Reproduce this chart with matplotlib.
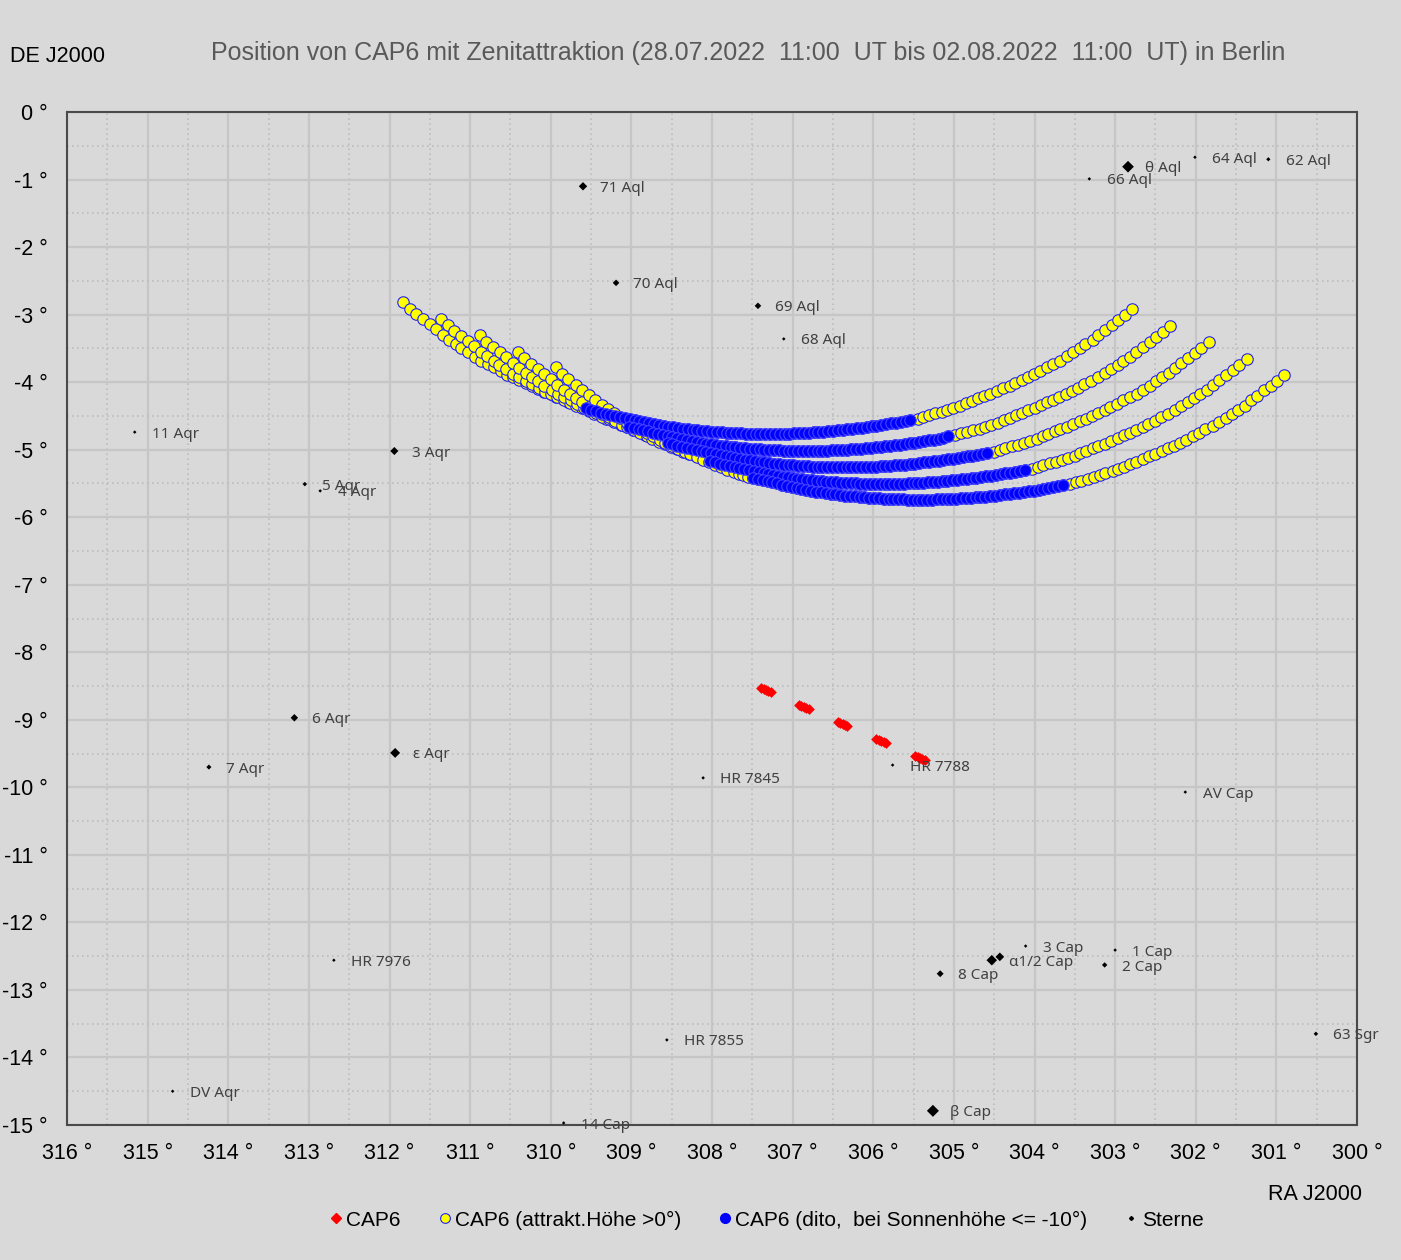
import matplotlib
matplotlib.use("Agg")
import matplotlib.pyplot as plt
from matplotlib.lines import Line2D

plt.rcParams['font.family'] = ['Liberation Sans', 'DejaVu Sans']

BG = '#d9d9d9'

# apparent radiant (zenith attraction), one track per night, ordered by falling RA
# indices DARK_START..DARK_END-1 are the points with sun altitude <= -10 deg
RA_0108 = [311.83, 311.75, 311.67, 311.58, 311.50, 311.42, 311.34, 311.26, 311.18, 311.11,
           311.03, 310.94, 310.86, 310.78, 310.70, 310.62, 310.54, 310.47, 310.39, 310.31,
           310.23, 310.16, 310.08, 310.00, 309.93, 309.85, 309.78, 309.70, 309.62,
           309.56, 309.50, 309.44, 309.38, 309.32, 309.26, 309.20, 309.14, 309.08, 309.02,
           308.96, 308.90, 308.84, 308.78, 308.72, 308.66, 308.60, 308.54, 308.48, 308.42,
           308.36, 308.30, 308.24, 308.18, 308.12, 308.06, 308.00, 307.94, 307.88, 307.82,
           307.76, 307.70, 307.64, 307.58, 307.52, 307.46, 307.40, 307.34, 307.28, 307.22,
           307.16, 307.10, 307.04, 306.98, 306.92, 306.86, 306.80, 306.74, 306.68, 306.62,
           306.56, 306.50, 306.44, 306.38, 306.32, 306.26, 306.20, 306.14, 306.08, 306.02,
           305.96, 305.90, 305.84, 305.78, 305.72, 305.66, 305.60, 305.54,
           305.45, 305.38, 305.31, 305.23, 305.15, 305.08, 305.01, 304.92, 304.85, 304.78,
           304.70, 304.63, 304.55, 304.47, 304.39, 304.31, 304.24, 304.16, 304.08, 304.01,
           303.93, 303.85, 303.77, 303.68, 303.60, 303.52, 303.44, 303.37, 303.28, 303.21,
           303.13, 303.04, 302.96, 302.88, 302.79]
DE_0108 = [-2.81, -2.91, -2.99, -3.07, -3.14, -3.22, -3.30, -3.37, -3.43, -3.49,
           -3.56, -3.63, -3.68, -3.73, -3.78, -3.83, -3.89, -3.93, -3.97, -4.02,
           -4.06, -4.10, -4.14, -4.18, -4.22, -4.25, -4.29, -4.33, -4.36,
           -4.39, -4.41, -4.43, -4.45, -4.465, -4.48, -4.50, -4.515, -4.53, -4.55,
           -4.565, -4.58, -4.595, -4.61, -4.62, -4.635, -4.65, -4.66, -4.67, -4.68,
           -4.69, -4.70, -4.71, -4.715, -4.72, -4.73, -4.735, -4.74, -4.745, -4.75,
           -4.755, -4.76, -4.76, -4.765, -4.765, -4.77, -4.77, -4.77, -4.77, -4.77,
           -4.77, -4.765, -4.765, -4.76, -4.76, -4.755, -4.75, -4.745, -4.74, -4.735,
           -4.73, -4.725, -4.715, -4.71, -4.70, -4.69, -4.685, -4.675, -4.665, -4.655,
           -4.645, -4.635, -4.62, -4.61, -4.60, -4.585, -4.57, -4.555,
           -4.54, -4.51, -4.49, -4.46, -4.44, -4.41, -4.38, -4.35, -4.31, -4.28,
           -4.24, -4.21, -4.17, -4.13, -4.09, -4.05, -4.01, -3.97, -3.93, -3.88,
           -3.83, -3.78, -3.73, -3.68, -3.62, -3.56, -3.50, -3.44, -3.38, -3.30,
           -3.23, -3.15, -3.08, -3.01, -2.92]

RA_3107 = [311.36, 311.28, 311.20, 311.11, 311.03, 310.95, 310.87, 310.79, 310.71, 310.64,
           310.56, 310.47, 310.39, 310.31, 310.23, 310.15, 310.07, 310.00, 309.92, 309.84,
           309.76, 309.69, 309.61, 309.53, 309.46, 309.38, 309.31, 309.23, 309.15,
           309.09, 309.03, 308.97, 308.91, 308.85, 308.79, 308.73, 308.67, 308.61, 308.55,
           308.49, 308.43, 308.37, 308.31, 308.25, 308.19, 308.13, 308.07, 308.01, 307.95,
           307.89, 307.83, 307.77, 307.71, 307.65, 307.59, 307.53, 307.47, 307.41, 307.35,
           307.29, 307.23, 307.17, 307.11, 307.05, 306.99, 306.93, 306.87, 306.81, 306.75,
           306.69, 306.63, 306.57, 306.51, 306.45, 306.39, 306.33, 306.27, 306.21, 306.15,
           306.09, 306.03, 305.97, 305.91, 305.85, 305.79, 305.73, 305.67, 305.61, 305.55,
           305.49, 305.43, 305.37, 305.31, 305.25, 305.19, 305.13, 305.07,
           304.98, 304.91, 304.84, 304.76, 304.68, 304.61, 304.54, 304.45, 304.38, 304.31,
           304.23, 304.16, 304.08, 304.00, 303.92, 303.84, 303.77, 303.69, 303.61, 303.54,
           303.46, 303.38, 303.30, 303.21, 303.13, 303.05, 302.97, 302.90, 302.81, 302.74,
           302.66, 302.57, 302.49, 302.41, 302.32]
DE_3107 = [-3.06, -3.16, -3.24, -3.32, -3.39, -3.47, -3.55, -3.62, -3.68, -3.74,
           -3.81, -3.88, -3.93, -3.98, -4.03, -4.08, -4.14, -4.18, -4.22, -4.27,
           -4.31, -4.35, -4.39, -4.43, -4.47, -4.50, -4.54, -4.58, -4.61,
           -4.64, -4.66, -4.68, -4.70, -4.715, -4.73, -4.75, -4.765, -4.78, -4.80,
           -4.815, -4.83, -4.845, -4.86, -4.87, -4.885, -4.90, -4.91, -4.92, -4.93,
           -4.94, -4.95, -4.96, -4.965, -4.97, -4.98, -4.985, -4.99, -4.995, -5.00,
           -5.005, -5.01, -5.01, -5.015, -5.015, -5.02, -5.02, -5.02, -5.02, -5.02,
           -5.02, -5.015, -5.015, -5.01, -5.01, -5.005, -5.00, -4.995, -4.99, -4.985,
           -4.98, -4.975, -4.965, -4.96, -4.95, -4.94, -4.935, -4.925, -4.915, -4.905,
           -4.895, -4.885, -4.87, -4.86, -4.85, -4.835, -4.82, -4.805,
           -4.79, -4.76, -4.74, -4.71, -4.69, -4.66, -4.63, -4.60, -4.56, -4.53,
           -4.49, -4.46, -4.42, -4.38, -4.34, -4.30, -4.26, -4.22, -4.18, -4.13,
           -4.08, -4.03, -3.98, -3.93, -3.87, -3.81, -3.75, -3.69, -3.63, -3.55,
           -3.48, -3.40, -3.33, -3.26, -3.17]

RA_3007 = [310.88, 310.80, 310.72, 310.63, 310.55, 310.47, 310.39, 310.31, 310.23, 310.16,
           310.08, 309.99, 309.91, 309.83, 309.75, 309.67, 309.59, 309.52, 309.44, 309.36,
           309.28, 309.21, 309.13, 309.05, 308.98, 308.90, 308.83, 308.75, 308.67,
           308.61, 308.55, 308.49, 308.43, 308.37, 308.31, 308.25, 308.19, 308.13, 308.07,
           308.01, 307.95, 307.89, 307.83, 307.77, 307.71, 307.65, 307.59, 307.53, 307.47,
           307.41, 307.35, 307.29, 307.23, 307.17, 307.11, 307.05, 306.99, 306.93, 306.87,
           306.81, 306.75, 306.69, 306.63, 306.57, 306.51, 306.45, 306.39, 306.33, 306.27,
           306.21, 306.15, 306.09, 306.03, 305.97, 305.91, 305.85, 305.79, 305.73, 305.67,
           305.61, 305.55, 305.49, 305.43, 305.37, 305.31, 305.25, 305.19, 305.13, 305.07,
           305.01, 304.95, 304.89, 304.83, 304.77, 304.71, 304.65, 304.59,
           304.50, 304.43, 304.36, 304.28, 304.20, 304.13, 304.06, 303.97, 303.90, 303.83,
           303.75, 303.68, 303.60, 303.52, 303.44, 303.36, 303.29, 303.21, 303.13, 303.06,
           302.98, 302.90, 302.82, 302.73, 302.65, 302.57, 302.49, 302.42, 302.33, 302.26,
           302.18, 302.09, 302.01, 301.93, 301.84]
DE_3007 = [-3.30, -3.40, -3.48, -3.56, -3.63, -3.71, -3.79, -3.86, -3.92, -3.98,
           -4.05, -4.12, -4.17, -4.22, -4.27, -4.32, -4.38, -4.42, -4.46, -4.51,
           -4.55, -4.59, -4.63, -4.67, -4.71, -4.74, -4.78, -4.82, -4.85,
           -4.88, -4.90, -4.92, -4.94, -4.955, -4.97, -4.99, -5.005, -5.02, -5.04,
           -5.055, -5.07, -5.085, -5.10, -5.11, -5.125, -5.14, -5.15, -5.16, -5.17,
           -5.18, -5.19, -5.20, -5.205, -5.21, -5.22, -5.225, -5.23, -5.235, -5.24,
           -5.245, -5.25, -5.25, -5.255, -5.255, -5.26, -5.26, -5.26, -5.26, -5.26,
           -5.26, -5.255, -5.255, -5.25, -5.25, -5.245, -5.24, -5.235, -5.23, -5.225,
           -5.22, -5.215, -5.205, -5.20, -5.19, -5.18, -5.175, -5.165, -5.155, -5.145,
           -5.135, -5.125, -5.11, -5.10, -5.09, -5.075, -5.06, -5.045,
           -5.03, -5.00, -4.98, -4.95, -4.93, -4.90, -4.87, -4.84, -4.80, -4.77,
           -4.73, -4.70, -4.66, -4.62, -4.58, -4.54, -4.50, -4.46, -4.42, -4.37,
           -4.32, -4.27, -4.22, -4.17, -4.11, -4.05, -3.99, -3.93, -3.87, -3.79,
           -3.72, -3.64, -3.57, -3.50, -3.41]

RA_2907 = [310.41, 310.33, 310.25, 310.16, 310.08, 310.00, 309.92, 309.84, 309.76, 309.69,
           309.61, 309.52, 309.44, 309.36, 309.28, 309.20, 309.12, 309.05, 308.97, 308.89,
           308.81, 308.74, 308.66, 308.58, 308.51, 308.43, 308.36, 308.28, 308.20,
           308.14, 308.08, 308.02, 307.96, 307.90, 307.84, 307.78, 307.72, 307.66, 307.60,
           307.54, 307.48, 307.42, 307.36, 307.30, 307.24, 307.18, 307.12, 307.06, 307.00,
           306.94, 306.88, 306.82, 306.76, 306.70, 306.64, 306.58, 306.52, 306.46, 306.40,
           306.34, 306.28, 306.22, 306.16, 306.10, 306.04, 305.98, 305.92, 305.86, 305.80,
           305.74, 305.68, 305.62, 305.56, 305.50, 305.44, 305.38, 305.32, 305.26, 305.20,
           305.14, 305.08, 305.02, 304.96, 304.90, 304.84, 304.78, 304.72, 304.66, 304.60,
           304.54, 304.48, 304.42, 304.36, 304.30, 304.24, 304.18, 304.12,
           304.03, 303.96, 303.89, 303.81, 303.73, 303.66, 303.59, 303.50, 303.43, 303.36,
           303.28, 303.21, 303.13, 303.05, 302.97, 302.89, 302.82, 302.74, 302.66, 302.59,
           302.51, 302.43, 302.35, 302.26, 302.18, 302.10, 302.02, 301.95, 301.86, 301.79,
           301.71, 301.62, 301.54, 301.46, 301.37]
DE_2907 = [-3.55, -3.65, -3.73, -3.81, -3.88, -3.96, -4.04, -4.11, -4.17, -4.23,
           -4.30, -4.37, -4.42, -4.47, -4.52, -4.57, -4.63, -4.67, -4.71, -4.76,
           -4.80, -4.84, -4.88, -4.92, -4.96, -4.99, -5.03, -5.07, -5.10,
           -5.13, -5.15, -5.17, -5.19, -5.205, -5.22, -5.24, -5.255, -5.27, -5.29,
           -5.305, -5.32, -5.335, -5.35, -5.36, -5.375, -5.39, -5.40, -5.41, -5.42,
           -5.43, -5.44, -5.45, -5.455, -5.46, -5.47, -5.475, -5.48, -5.485, -5.49,
           -5.495, -5.50, -5.50, -5.505, -5.505, -5.51, -5.51, -5.51, -5.51, -5.51,
           -5.51, -5.505, -5.505, -5.50, -5.50, -5.495, -5.49, -5.485, -5.48, -5.475,
           -5.47, -5.465, -5.455, -5.45, -5.44, -5.43, -5.425, -5.415, -5.405, -5.395,
           -5.385, -5.375, -5.36, -5.35, -5.34, -5.325, -5.31, -5.295,
           -5.28, -5.25, -5.23, -5.20, -5.18, -5.15, -5.12, -5.09, -5.05, -5.02,
           -4.98, -4.95, -4.91, -4.87, -4.83, -4.79, -4.75, -4.71, -4.67, -4.62,
           -4.57, -4.52, -4.47, -4.42, -4.36, -4.30, -4.24, -4.18, -4.12, -4.04,
           -3.97, -3.89, -3.82, -3.75, -3.66]

RA_2807 = [309.94, 309.86, 309.78, 309.69, 309.61, 309.53, 309.45, 309.37, 309.29, 309.22,
           309.14, 309.05, 308.97, 308.89, 308.81, 308.73, 308.65, 308.58, 308.50, 308.42,
           308.34, 308.27, 308.19, 308.11, 308.04, 307.96, 307.89, 307.81, 307.73,
           307.67, 307.61, 307.55, 307.49, 307.43, 307.37, 307.31, 307.25, 307.19, 307.13,
           307.07, 307.01, 306.95, 306.89, 306.83, 306.77, 306.71, 306.65, 306.59, 306.53,
           306.47, 306.41, 306.35, 306.29, 306.23, 306.17, 306.11, 306.05, 305.99, 305.93,
           305.87, 305.81, 305.75, 305.69, 305.63, 305.57, 305.51, 305.45, 305.39, 305.33,
           305.27, 305.21, 305.15, 305.09, 305.03, 304.97, 304.91, 304.85, 304.79, 304.73,
           304.67, 304.61, 304.55, 304.49, 304.43, 304.37, 304.31, 304.25, 304.19, 304.13,
           304.07, 304.01, 303.95, 303.89, 303.83, 303.77, 303.71, 303.65,
           303.56, 303.49, 303.42, 303.34, 303.26, 303.19, 303.12, 303.03, 302.96, 302.89,
           302.81, 302.74, 302.66, 302.58, 302.50, 302.42, 302.35, 302.27, 302.19, 302.12,
           302.04, 301.96, 301.88, 301.79, 301.71, 301.63, 301.55, 301.48, 301.39, 301.32,
           301.24, 301.15, 301.07, 300.99, 300.90]
DE_2807 = [-3.78, -3.88, -3.96, -4.04, -4.11, -4.19, -4.27, -4.34, -4.40, -4.46,
           -4.53, -4.60, -4.65, -4.70, -4.75, -4.80, -4.86, -4.90, -4.94, -4.99,
           -5.03, -5.07, -5.11, -5.15, -5.19, -5.22, -5.26, -5.30, -5.33,
           -5.36, -5.38, -5.40, -5.42, -5.435, -5.45, -5.47, -5.485, -5.50, -5.52,
           -5.535, -5.55, -5.565, -5.58, -5.59, -5.605, -5.62, -5.63, -5.64, -5.65,
           -5.66, -5.67, -5.68, -5.685, -5.69, -5.70, -5.705, -5.71, -5.715, -5.72,
           -5.725, -5.73, -5.73, -5.735, -5.735, -5.74, -5.74, -5.74, -5.74, -5.74,
           -5.74, -5.735, -5.735, -5.73, -5.73, -5.725, -5.72, -5.715, -5.71, -5.705,
           -5.70, -5.695, -5.685, -5.68, -5.67, -5.66, -5.655, -5.645, -5.635, -5.625,
           -5.615, -5.605, -5.59, -5.58, -5.57, -5.555, -5.54, -5.525,
           -5.51, -5.48, -5.46, -5.43, -5.41, -5.38, -5.35, -5.32, -5.28, -5.25,
           -5.21, -5.18, -5.14, -5.10, -5.06, -5.02, -4.98, -4.94, -4.90, -4.85,
           -4.80, -4.75, -4.70, -4.65, -4.59, -4.53, -4.47, -4.41, -4.35, -4.27,
           -4.20, -4.12, -4.05, -3.98, -3.89]

NIGHTS_RA = [RA_0108, RA_3107, RA_3007, RA_2907, RA_2807]
NIGHTS_DE = [DE_0108, DE_3107, DE_3007, DE_2907, DE_2807]
DARK_START = [29, 30, 30, 31, 32]
DARK_END = [97, 97, 97, 97, 97]

# geocentric radiant CAP6 (no attraction)
CAP6_RA = [307.39, 307.36, 307.33, 307.30, 307.27, 306.92, 306.89, 306.86, 306.83, 306.80,
           306.44, 306.41, 306.38, 306.35, 306.32, 305.96, 305.93, 305.90, 305.87, 305.84,
           305.48, 305.45, 305.42, 305.39, 305.36]
CAP6_DE = [-8.53, -8.545, -8.56, -8.575, -8.59, -8.78, -8.795, -8.81, -8.825, -8.84,
           -9.03, -9.045, -9.06, -9.075, -9.09, -9.28, -9.295, -9.31, -9.325, -9.34,
           -9.53, -9.545, -9.56, -9.575, -9.59]

# stars
STAR_NAMES = ["71 Aql", "70 Aql", "69 Aql", "68 Aql", "θ Aql", "66 Aql", "64 Aql", "62 Aql",
              "11 Aqr", "3 Aqr", "5 Aqr", "4 Aqr", "6 Aqr", "ε Aqr", "7 Aqr", "HR 7845",
              "HR 7788", "AV Cap", "3 Cap", "1 Cap", "α1/2 Cap", "", "2 Cap", "8 Cap",
              "HR 7976", "HR 7855", "63 Sgr", "DV Aqr", "β Cap", "14 Cap"]
STAR_RA = [309.60, 309.19, 307.43, 307.11, 302.84, 303.32, 302.01, 301.10,
           315.16, 311.94, 313.05, 312.86, 313.18, 311.93, 314.24, 308.11,
           305.76, 302.13, 304.11, 303.00, 304.53, 304.43, 303.13, 305.17,
           312.69, 308.56, 300.51, 314.69, 305.26, 309.84]
STAR_DE = [-1.10, -2.53, -2.87, -3.36, -0.81, -0.99, -0.67, -0.70,
           -4.74, -5.02, -5.51, -5.61, -8.97, -9.49, -9.70, -9.86,
           -9.67, -10.07, -12.35, -12.41, -12.56, -12.51, -12.63, -12.76,
           -12.56, -13.74, -13.65, -14.50, -14.79, -14.97]
STAR_MAG = [4.3, 4.9, 4.9, 6.3, 3.2, 6.3, 6.2, 5.7,
            6.3, 4.4, 5.6, 6.3, 4.6, 3.8, 5.4, 6.3,
            6.3, 6.3, 6.3, 6.3, 3.6, 4.2, 5.3, 4.8,
            6.3, 6.3, 5.6, 6.3, 3.1, 6.3]

TITLE = ("Position von CAP6 mit Zenitattraktion (28.07.2022  11:00  UT bis "
         "02.08.2022  11:00  UT) in Berlin")

fig = plt.figure(figsize=(14.01, 12.6), dpi=100, facecolor=BG)
ax = fig.add_axes([67 / 1401, 135 / 1260, 1290 / 1401, 1013 / 1260])
ax.set_facecolor(BG)

# all points above the (attracted) horizon in yellow, dark part in blue on top
for ra, de in zip(NIGHTS_RA, NIGHTS_DE):
    ax.scatter(ra, de, s=68, marker='o', facecolor='#ffff00', edgecolor='#2020ff',
               linewidths=0.8, zorder=3)
for ra, de, a, b in zip(NIGHTS_RA, NIGHTS_DE, DARK_START, DARK_END):
    ax.scatter(ra[a:b], de[a:b], s=68, marker='o', facecolor='#0000ff',
               edgecolor='#4646ff', linewidths=0.8, zorder=4)

ax.scatter(CAP6_RA, CAP6_DE, s=30, marker='D', color='#ff0000', linewidths=0, zorder=4)

star_px = [max(3.5, 12 - 3.0 * (m - 3.1)) for m in STAR_MAG]
ax.scatter(STAR_RA, STAR_DE, s=[(p * 0.51) ** 2 for p in star_px], marker='D',
           color='black', linewidths=0, zorder=5)
for name, ra, de in zip(STAR_NAMES, STAR_RA, STAR_DE):
    if name:
        ax.annotate(name, (ra, de), xytext=(12.5, -1.5), textcoords='offset points',
                    ha='left', va='center', fontsize=11, color='#404040',
                    family=['Noto Sans', 'DejaVu Sans'], zorder=6, annotation_clip=False)

ax.set_xlim(316, 300)
ax.set_ylim(-15, 0)
xt = list(range(300, 317))
ax.set_xticks(xt)
ax.set_xticklabels([f"{v} °" for v in xt])
yt = list(range(-15, 1))
ax.set_yticks(yt)
ax.set_yticklabels([f"{v} °" for v in yt])
ax.set_xticks([v + 0.5 for v in range(300, 316)], minor=True)
ax.set_yticks([v + 0.5 for v in range(-15, 0)], minor=True)
ax.tick_params(which='both', length=0)
ax.tick_params(axis='x', pad=13, labelsize=15.5)
ax.tick_params(axis='y', pad=14, labelsize=15.5)
ax.grid(which='major', color='#c6c6c6', lw=1.6)
ax.grid(which='minor', color='#bdbdbd', lw=1.2, ls=(0, (1, 2)))
ax.set_axisbelow(True)
for sp in ax.spines.values():
    sp.set_color('#4a4a4a')
    sp.set_linewidth(1.5)

fig.text(748 / 1401, 1 - 53 / 1260, TITLE, ha='center', va='center',
         fontsize=18, color='#595959')
fig.text(10 / 1401, 1 - 56 / 1260, "DE J2000", ha='left', va='center', fontsize=15.5,
         color='black')
fig.text(1362 / 1401, 1 - 1195 / 1260, "RA J2000", ha='right', va='center', fontsize=15.5,
         color='black')

handles = [
    Line2D([], [], ls='none', marker='D', ms=5, color='#ff0000', mec='#ff0000'),
    Line2D([], [], ls='none', marker='o', ms=7, mfc='#ffff00', mec='#2020ff', mew=0.8),
    Line2D([], [], ls='none', marker='o', ms=7, mfc='#0000ff', mec='#0000ff'),
    Line2D([], [], ls='none', marker='D', ms=2, color='black'),
]
labels = ["CAP6", "CAP6 (attrakt.Höhe >0°)", "CAP6 (dito,  bei Sonnenhöhe <= -10°)", "Sterne"]
fig.legend(handles, labels, loc='center', bbox_to_anchor=(766 / 1401, 1 - 1220 / 1260),
           ncol=4, frameon=False, fontsize=15, handlelength=0.7, handletextpad=0.15,
           columnspacing=1.75)

fig.savefig("out.png", dpi=100, facecolor=BG)
